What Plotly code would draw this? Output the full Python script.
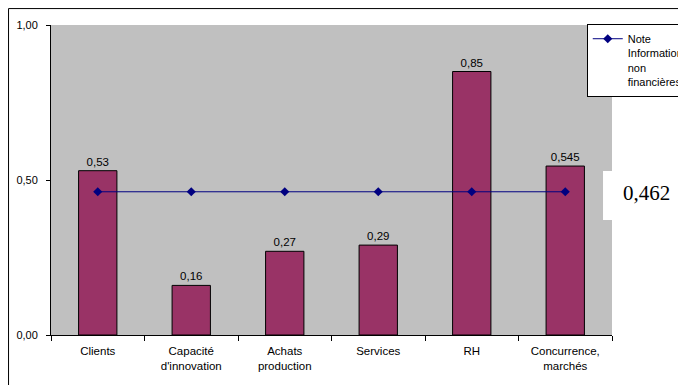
import plotly.graph_objects as go

categories = ["Clients", "Capacité<br>d'innovation", "Achats<br>production", "Services", "RH", "Concurrence,<br>marchés"]
bar_values = [0.53, 0.16, 0.27, 0.29, 0.85, 0.545]
bar_labels = ["0,53", "0,16", "0,27", "0,29", "0,85", "0,545"]
note_value = 0.462
note_values = [note_value] * len(categories)
note_label = "0,462"
legend_name = "Note<br>Informations<br>non<br>financières"

FONT = "Liberation Sans, Arial, sans-serif"

fig = go.Figure()
fig.add_trace(go.Bar(
    x=categories, y=bar_values, text=bar_labels, textposition="outside",
    textfont=dict(family=FONT, size=11.5, color="black"),
    marker=dict(color="#993366", line=dict(color="black", width=1)),
    width=0.41, showlegend=False, cliponaxis=False,
))
fig.add_trace(go.Scatter(
    x=categories, y=note_values, mode="lines+markers", name=legend_name,
    line=dict(color="#000080", width=1),
    marker=dict(symbol="diamond", size=7, color="#000080"),
))

# the page body has an 8px margin, so the figure is sized to fill the rest of the window
fig.update_layout(
    width=678, height=377,
    margin=dict(l=43, r=74, t=17, b=50, autoexpand=False),
    paper_bgcolor="white", plot_bgcolor="#C0C0C0",
    separators=", ",
    font=dict(family=FONT, size=11, color="black"),
    legend=dict(x=0.955, y=1.003, xanchor="left", yanchor="top",
                bgcolor="white", bordercolor="black", borderwidth=1,
                font=dict(family=FONT, size=11, color="black"),
                itemwidth=30, valign="top", tracegroupgap=0),
    showlegend=True,
)
fig.update_yaxes(range=[0, 1], tickvals=[0, 0.5, 1], tickformat=".2f",
                 showgrid=False, zeroline=False, showline=True, linecolor="black",
                 linewidth=1, ticks="outside", ticklen=4, tickcolor="black",
                 ticklabelstandoff=6, tickfont=dict(family=FONT, size=11))
fig.update_xaxes(showgrid=False, showline=True, linecolor="black", linewidth=1,
                 ticks="outside", ticklen=5, tickcolor="black", tickson="boundaries",
                 ticklabelstandoff=5, tickfont=dict(family=FONT, size=11.5))

# white box with value of the note
fig.add_shape(type="rect", xref="paper", yref="paper", x0=0.984, x1=1.2,
              y0=0.371, y1=0.529, fillcolor="white", line=dict(width=0), layer="above")
fig.add_annotation(xref="paper", yref="paper", x=1.016, y=0.458, xanchor="left", text=note_label,
                   showarrow=False, font=dict(family="Liberation Serif, Times New Roman, serif", size=21, color="black"))
# outer chart frame (top and left edges visible)
fig.add_shape(type="line", xref="paper", yref="paper", x0=-0.0757, x1=1.2, y0=1.053, y1=1.053,
              line=dict(color="black", width=1))
fig.add_shape(type="line", xref="paper", yref="paper", x0=-0.0757, x1=-0.0757, y0=-0.2, y1=1.053,
              line=dict(color="black", width=1))

fig.write_html("out.html")
